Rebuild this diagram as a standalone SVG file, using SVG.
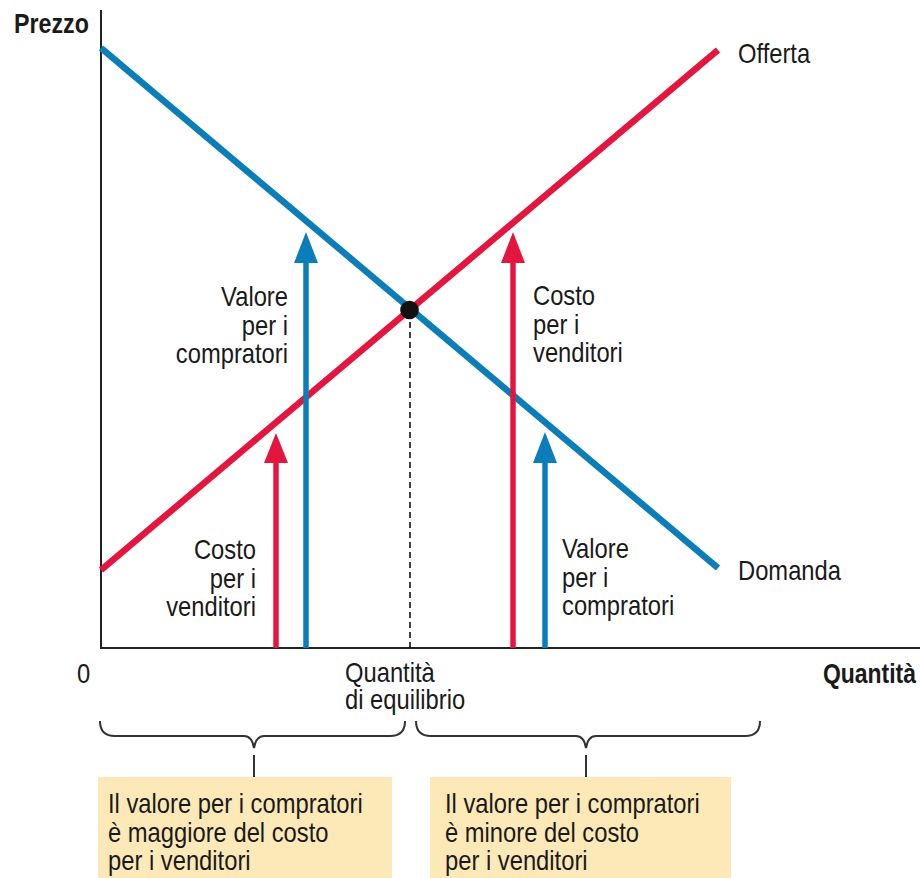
<svg xmlns="http://www.w3.org/2000/svg" width="920" height="878" viewBox="0 0 920 878">
<defs>
<style>
.t{font-family:"Liberation Sans",Arial,sans-serif;font-size:27px;fill:#1a1a1a}
.b{font-weight:bold;font-size:27px}
.e{text-anchor:end}
.axis{stroke:#222;stroke-width:2;fill:none}
.brace{stroke:#333;stroke-width:2;fill:none}
.blue{stroke:#0B7DB8}
.red{stroke:#E3163F}
.curve{stroke-width:6.5;fill:none}
.shaft{stroke-width:5.5;fill:none}
.box{fill:#FDE9B8}
</style>
</defs>
<rect width="920" height="878" fill="#fff"/>
<g id="axes">
<line class="axis" x1="101" y1="10" x2="101" y2="649"/>
<line class="axis" x1="100" y1="648" x2="920" y2="648"/>
<text class="t b" transform="translate(14,33) scale(0.86,1)">Prezzo</text>
<text class="t b e" transform="translate(916,683) scale(0.85,1)">Quantità</text>
<text class="t" transform="translate(77,683) scale(0.88,1)">0</text>
</g>
<g id="connectors">
<line class="curve blue" x1="101" y1="48" x2="718" y2="568"/>
<line class="curve red" x1="101" y1="570" x2="718" y2="50"/>
<line x1="410" y1="312" x2="410" y2="648" stroke="#111" stroke-width="1.6" stroke-dasharray="6,4"/>
<line class="shaft red" x1="276" y1="648" x2="276" y2="455"/>
<polygon points="276,433 264,463 288,463" fill="#E3163F"/>
<line class="shaft blue" x1="306" y1="648" x2="306" y2="255"/>
<polygon points="306,232 294,263 318,263" fill="#0B7DB8"/>
<line class="shaft red" x1="513" y1="648" x2="513" y2="255"/>
<polygon points="513,232 501,263 525,263" fill="#E3163F"/>
<line class="shaft blue" x1="545" y1="648" x2="545" y2="455"/>
<polygon points="545,432 533,463 557,463" fill="#0B7DB8"/>
<path class="brace" d="M100,721 Q100,736 115,736 L244,736 Q252,736 254,748 Q256,736 264,736 L390,736 Q405,736 405,721"/>
<line class="brace" x1="254" y1="755" x2="254" y2="777"/>
<path class="brace" d="M416,721 Q416,736 431,736 L576,736 Q584,736 586,748 Q588,736 596,736 L745,736 Q760,736 760,721"/>
<line class="brace" x1="586" y1="755" x2="586" y2="777"/>
</g>
<g id="equilibrium">
<circle cx="409.5" cy="310" r="9.3" fill="#111"/>
<text class="t" transform="translate(345,682) scale(0.88,1)">Quantità</text>
<text class="t" transform="translate(345,709) scale(0.88,1)">di equilibrio</text>
</g>
<g id="offerta"><text class="t" transform="translate(738,63) scale(0.88,1)">Offerta</text></g>
<g id="domanda"><text class="t" transform="translate(738,580) scale(0.88,1)">Domanda</text></g>
<g id="label-valore-left">
<text class="t e" transform="translate(288,306) scale(0.88,1)">Valore</text>
<text class="t e" transform="translate(288,334.5) scale(0.88,1)">per i</text>
<text class="t e" transform="translate(288,363) scale(0.88,1)">compratori</text>
</g>
<g id="label-costo-left">
<text class="t e" transform="translate(256,559) scale(0.88,1)">Costo</text>
<text class="t e" transform="translate(256,587.5) scale(0.88,1)">per i</text>
<text class="t e" transform="translate(256,616) scale(0.88,1)">venditori</text>
</g>
<g id="label-costo-right">
<text class="t" transform="translate(533,305) scale(0.88,1)">Costo</text>
<text class="t" transform="translate(533,333.5) scale(0.88,1)">per i</text>
<text class="t" transform="translate(533,362) scale(0.88,1)">venditori</text>
</g>
<g id="label-valore-right">
<text class="t" transform="translate(562,558) scale(0.88,1)">Valore</text>
<text class="t" transform="translate(562,586.5) scale(0.88,1)">per i</text>
<text class="t" transform="translate(562,615) scale(0.88,1)">compratori</text>
</g>
<g id="box-left">
<rect class="box" x="98" y="777" width="294" height="101"/>
<text class="t" transform="translate(108,813) scale(0.88,1)">Il valore per i compratori</text>
<text class="t" transform="translate(108,842) scale(0.88,1)">è maggiore del costo</text>
<text class="t" transform="translate(108,870) scale(0.88,1)">per i venditori</text>
</g>
<g id="box-right">
<rect class="box" x="430" y="777" width="301" height="101"/>
<text class="t" transform="translate(445,813) scale(0.88,1)">Il valore per i compratori</text>
<text class="t" transform="translate(445,842) scale(0.88,1)">è minore del costo</text>
<text class="t" transform="translate(445,870) scale(0.88,1)">per i venditori</text>
</g>
</svg>
